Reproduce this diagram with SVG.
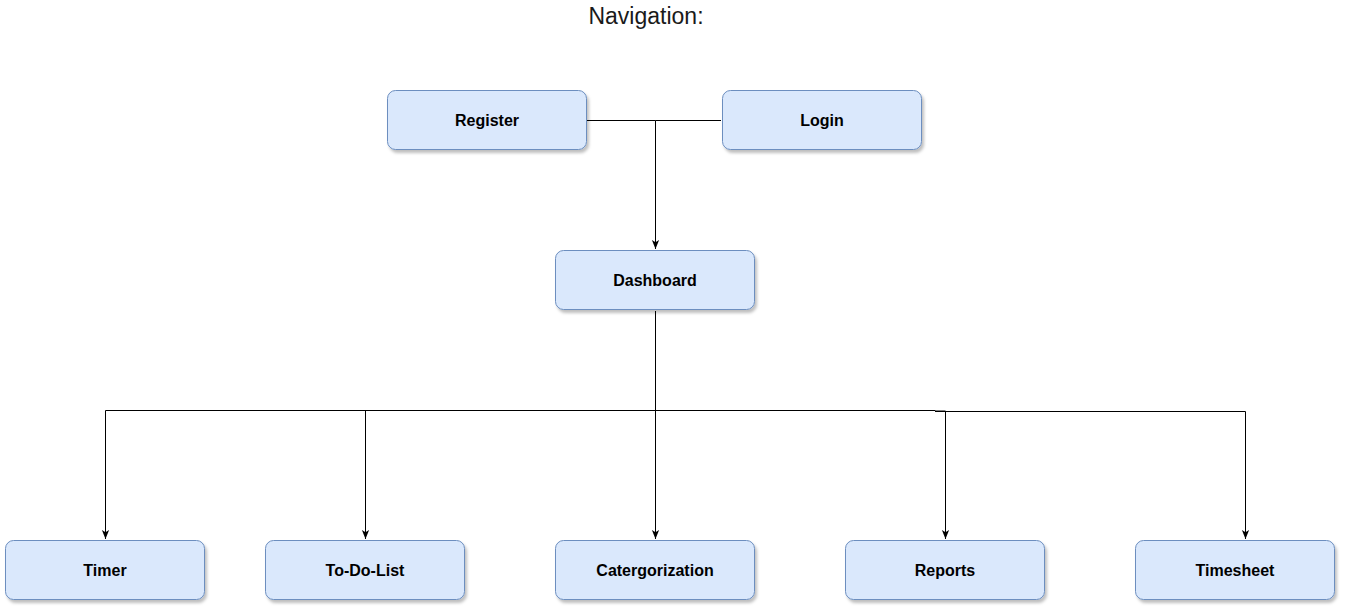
<svg xmlns="http://www.w3.org/2000/svg" width="1346" height="612" viewBox="0 0 1346 612">
<defs>
<filter id="sh" x="-10%" y="-20%" width="130%" height="160%">
<feDropShadow dx="2" dy="3" stdDeviation="1.5" flood-color="#000" flood-opacity="0.25"/>
</filter>
<marker id="arr" viewBox="0 0 10 10" refX="10" refY="5" markerWidth="9" markerHeight="9" markerUnits="userSpaceOnUse" orient="auto">
<path d="M0,1 L10,5 L0,9 L2.5,5 Z" fill="#000"/>
</marker>
<style>
.box{fill:#dae8fc;stroke:#6c8ebf;stroke-width:1;filter:url(#sh)}
.lbl{font-family:"Liberation Sans",Arial,sans-serif;font-size:16px;font-weight:bold;fill:#000;text-anchor:middle}
.edge{fill:none;stroke:#000;stroke-width:1}
.title{font-family:"Liberation Sans",Arial,sans-serif;font-size:23px;fill:#1a1a1a;text-anchor:middle}
</style>
</defs>
<rect width="1346" height="612" fill="#fff"/>
<text class="title" x="646" y="24">Navigation:</text>
<g id="connectors">
<path class="edge" d="M587,120.5 H655.5"/>
<path class="edge" d="M721,120.5 H655.5 V249" marker-end="url(#arr)"/>
<path class="edge" d="M655.5,311 V539" marker-end="url(#arr)"/>
<path class="edge" d="M655.5,410.5 H105.5 V539" marker-end="url(#arr)"/>
<path class="edge" d="M545,410.5 H365.5 V539" marker-end="url(#arr)"/>
<path class="edge" d="M655.5,410.5 H935 V411 H945.5 V539" marker-end="url(#arr)"/>
<path class="edge" d="M935,411.5 H1245.5 V539" marker-end="url(#arr)"/>
</g>
<g id="register"><rect class="box" x="387.5" y="90.5" width="199" height="59" rx="8"/><text class="lbl" x="487" y="126">Register</text></g>
<g id="login"><rect class="box" x="722.5" y="90.5" width="199" height="59" rx="8"/><text class="lbl" x="822" y="126">Login</text></g>
<g id="dashboard"><rect class="box" x="555.5" y="250.5" width="199" height="59" rx="8"/><text class="lbl" x="655" y="286">Dashboard</text></g>
<g id="timer"><rect class="box" x="5.5" y="540.5" width="199" height="59" rx="8"/><text class="lbl" x="105" y="576">Timer</text></g>
<g id="todolist"><rect class="box" x="265.5" y="540.5" width="199" height="59" rx="8"/><text class="lbl" x="365" y="576">To-Do-List</text></g>
<g id="catergorization"><rect class="box" x="555.5" y="540.5" width="199" height="59" rx="8"/><text class="lbl" x="655" y="576">Catergorization</text></g>
<g id="reports"><rect class="box" x="845.5" y="540.5" width="199" height="59" rx="8"/><text class="lbl" x="945" y="576">Reports</text></g>
<g id="timesheet"><rect class="box" x="1135.5" y="540.5" width="199" height="59" rx="8"/><text class="lbl" x="1235" y="576">Timesheet</text></g>
</svg>
